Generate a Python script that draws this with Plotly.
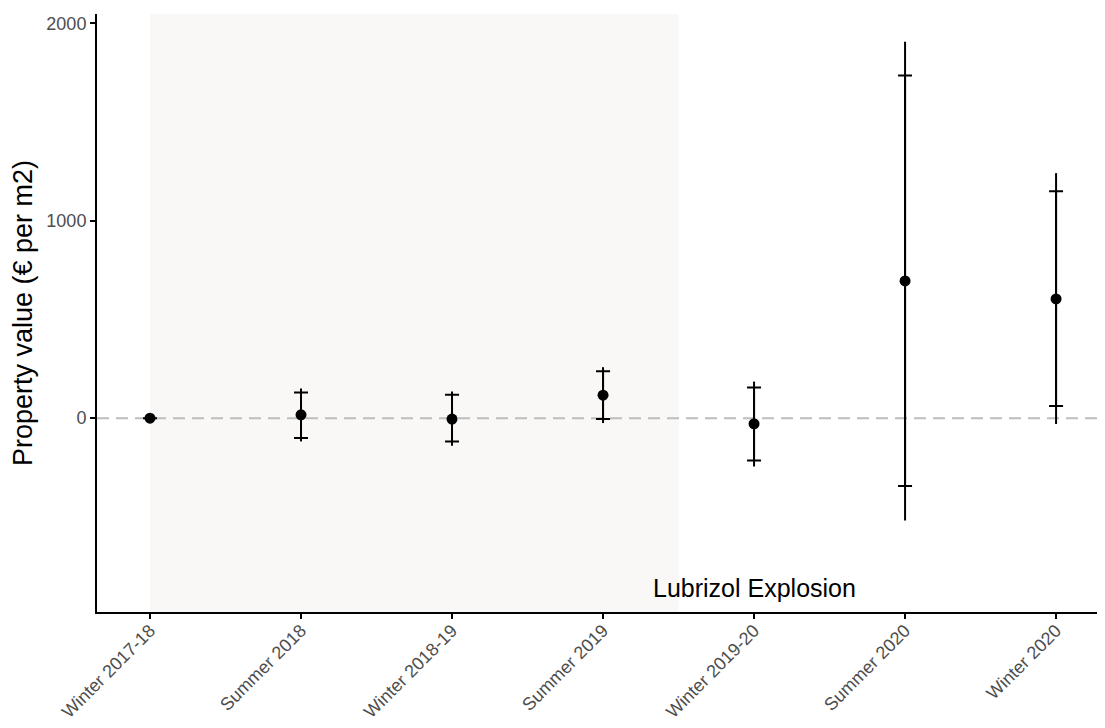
import plotly.graph_objects as go

periods = ["Winter 2017-18", "Summer 2018", "Winter 2018-19", "Summer 2019",
           "Winter 2019-20", "Summer 2020", "Winter 2020"]
estimate = [0, 17, -5, 116, -29, 695, 604]
ci90_low = [0, -101, -118, -5, -215, -344, 62]
ci90_high = [0, 130, 118, 238, 155, 1735, 1149]
ci95_low = [0, -118, -140, -25, -245, -518, -30]
ci95_high = [0, 150, 135, 258, 185, 1907, 1241]
y_ticks = [0, 1000, 2000]
event_label = "Lubrizol Explosion"
event_index = 4
pre_period_end = 3.5

xs = list(range(len(periods)))

fig = go.Figure()

fig.add_shape(type="rect", xref="x", yref="paper", x0=0, x1=pre_period_end,
              y0=0, y1=1, fillcolor="#f9f8f7", line_width=0, layer="below")
fig.add_shape(type="line", xref="paper", yref="y", x0=0, x1=1, y0=0, y1=0,
              line=dict(color="#bdbdbd", width=2, dash="12px,7px"), layer="below")

fig.add_trace(go.Scatter(
    x=xs, y=estimate, mode="markers",
    marker=dict(size=1, color="rgba(0,0,0,0)"),
    error_y=dict(type="data", symmetric=False,
                 array=[h - e for h, e in zip(ci95_high, estimate)],
                 arrayminus=[e - l for l, e in zip(ci95_low, estimate)],
                 color="black", thickness=2, width=0),
    showlegend=False, hoverinfo="skip"))

fig.add_trace(go.Scatter(
    x=xs, y=estimate, mode="markers",
    marker=dict(size=11, color="black"),
    error_y=dict(type="data", symmetric=False,
                 array=[h - e for h, e in zip(ci90_high, estimate)],
                 arrayminus=[e - l for l, e in zip(ci90_low, estimate)],
                 color="black", thickness=2, width=7),
    showlegend=False))

fig.add_annotation(x=event_index, y=-858, text=event_label, showarrow=False,
                   font=dict(size=25, color="black", family="Liberation Sans"),
                   xanchor="center", yanchor="middle")

fig.update_layout(
    width=1105, height=728,
    margin=dict(l=89, r=8, t=6, b=124, autoexpand=False),
    plot_bgcolor="white", paper_bgcolor="white",
    font=dict(family="Liberation Sans", size=18, color="#4d4d4d"),
    xaxis=dict(range=[-0.351, 6.324], tickmode="array", tickvals=xs, ticktext=periods,
               tickangle=-45, showgrid=False, zeroline=False,
               showline=True, linecolor="black", linewidth=2,
               ticks="outside", ticklen=5, tickcolor="black", tickwidth=1.5,
               ticklabelstandoff=-6,
               tickfont=dict(size=18, color="#4d4d4d"), automargin=False),
    yaxis=dict(range=[-982, 2047], tickmode="array", tickvals=y_ticks,
               showgrid=False, zeroline=False,
               showline=True, linecolor="black", linewidth=2,
               ticks="outside", ticklen=5, tickcolor="black", tickwidth=1.5,
               tickfont=dict(size=18, color="#4d4d4d"), automargin=False,
               title=dict(text="Property value (€ per m2)", standoff=8,
                          font=dict(size=27, color="black"))),
)

fig.write_html("out.html")
